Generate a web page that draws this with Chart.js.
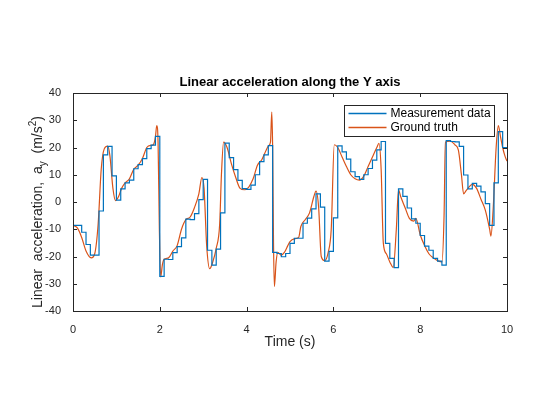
<!DOCTYPE html>
<html><head><meta charset="utf-8">
<script src="https://cdn.jsdelivr.net/npm/chart.js@4"></script>
<style>html,body{margin:0;padding:0;background:#fff}#c{display:block}</style>
</head><body>
<div style="width:560px;height:420px"><canvas id="c" width="560" height="420"></canvas></div>
<script>
const title = "Linear acceleration along the Y axis";
const xTicks = [0,2,4,6,8,10];
const yTicks = [-40,-30,-20,-10,0,10,20,30,40];
const measValues = [-8.6,-8.6,-11.1,-15.6,-19.5,-19.5,-3.3,17.3,20.4,9.6,
 0.7,4.8,7,8,12.2,13.7,15.9,19.6,20.9,24.1,
 -27.3,-21,-21.1,-18.6,-16.4,-13.2,-6.3,-6.5,-4.3,0.9,
 8.3,-17.7,-23.2,-17.3,-4,21.6,16.3,11.9,7.9,4.9,
 4.6,6.2,10,14.8,17.3,20.7,-18.5,-18.9,-20.1,-18.9,
 -15.2,-13.3,-13.3,-7.8,-5.9,-2.5,3,-1.9,-21.7,-18.1,
 -5.8,20.6,18.4,15.7,11.1,9.3,8.3,10,12.3,15.4,
 19.1,22.2,-15.2,-20.7,-24.1,4.8,2.1,-2.2,-6.2,-7.8,
 -12.3,-16.2,-17.7,-20.7,-21.7,-23.2,22.5,22.2,22.1,20.4,
 9.9,4.8,6.8,5.8,3.7,-0.6,-8.6,7,25.8,20,20];
const truthT = [0,0.1,0.2,0.3,0.42,0.5,0.58,0.65,0.72,0.8,0.85,0.92,0.98,1.05,1.12,1.2,1.3,1.4,1.5,1.6,1.7,1.8,1.85,1.9,1.93,1.96,1.99,2.02,2.06,2.1,2.2,2.3,2.4,2.5,2.6,2.7,2.8,2.9,2.97,3.02,3.08,3.15,3.22,3.3,3.38,3.42,3.47,3.55,3.65,3.75,3.85,3.95,4.05,4.15,4.25,4.35,4.45,4.5,4.55,4.58,4.6,4.62,4.64,4.68,4.72,4.8,4.87,4.95,5.0,5.1,5.2,5.25,5.35,5.45,5.55,5.6,5.66,5.72,5.8,5.88,5.95,6.02,6.1,6.2,6.3,6.4,6.5,6.6,6.7,6.8,6.9,7.0,7.05,7.1,7.15,7.22,7.3,7.38,7.45,7.5,7.55,7.65,7.75,7.85,7.9,8.0,8.1,8.2,8.3,8.4,8.5,8.55,8.58,8.7,8.8,8.88,8.95,9.0,9.05,9.1,9.2,9.3,9.4,9.5,9.6,9.63,9.68,9.75,9.8,9.85,9.9,9.95,10];
const truthV = [-8.6,-9.5,-13,-18,-20.5,-19,-8,12,19.5,20.5,17,5,0.5,2,5,7,8.5,12,13.5,16,20,20.8,21,24,28,22,-10,-27.5,-23,-21,-20.5,-18,-16,-10,-6.5,-5.5,-2,3,9,5,-16,-24.5,-22,-17,-8,10,22,20,14,9,5,4.5,5.5,8.5,13.5,15.5,19,20.5,22,33,20,-15,-31,-22,-18.5,-19.5,-18.5,-16,-14.5,-13.5,-13,-9,-6.5,-4,2,4,-2,-20,-21.5,-18.5,-10,21,20,16.5,13,10,8.5,8,9.5,13,16.5,20,21.5,12,-15,-19,-22,-24,-10,4.5,2,-2,-6,-7,-6,-12,-16,-19,-20.5,-21.5,-22,-5,22,22.3,21,19,10,3,4,5,6.5,5,1,-3,-10,-12.5,-3,20,28,24,20,17,15];

const measData = measValues.map((v,i)=>({x:i/10,y:v}));
const truthData = truthT.map((t,i)=>({x:t,y:truthV[i]}));
const FONT = "'Liberation Sans', Arial, sans-serif";
const TXT = '#262626';

const deco = {
  id:'deco',
  afterDraw(chart){
    const {ctx, chartArea:a, scales:{x,y}} = chart;
    ctx.save();
    ctx.strokeStyle = TXT; ctx.lineWidth = 1;
    ctx.beginPath();
    xTicks.forEach(v=>{const p=Math.round(x.getPixelForValue(v))+0.5;
      ctx.moveTo(p,a.bottom);ctx.lineTo(p,a.bottom-4);ctx.moveTo(p,a.top);ctx.lineTo(p,a.top+4);});
    yTicks.forEach(v=>{const p=Math.round(y.getPixelForValue(v))+0.5;
      ctx.moveTo(a.left,p);ctx.lineTo(a.left+4,p);ctx.moveTo(a.right,p);ctx.lineTo(a.right-4,p);});
    ctx.stroke();
    ctx.strokeRect(Math.round(a.left)+0.5,Math.round(a.top)+0.5,Math.round(a.right-a.left),Math.round(a.bottom-a.top));
    ctx.fillStyle = '#000';
    ctx.font = "bold 13px "+FONT; ctx.textAlign='center'; ctx.textBaseline='alphabetic';
    ctx.fillText(title,(a.left+a.right)/2,86);
    ctx.fillStyle = TXT;
    ctx.font = "14px "+FONT;
    ctx.fillText("Time (s)",(a.left+a.right)/2,346);
    // y label
    ctx.translate(42,212); ctx.rotate(-Math.PI/2);
    const parts=[["Linear  acceleration,  a",14,0],["y",10,4],["  (m/s",14,0],["2",10,-6],[")",14,0]];
    let w=0; parts.forEach(p=>{ctx.font=p[1]+"px "+FONT; w+=ctx.measureText(p[0]).width;});
    let cx=-w/2; ctx.textAlign='left';
    parts.forEach(p=>{ctx.font=p[1]+"px "+FONT; ctx.fillText(p[0],cx,p[2]); cx+=ctx.measureText(p[0]).width;});
    ctx.restore();
    // legend
    ctx.save();
    const lx=344.5, ly=105.5, lw=150, lh=31;
    ctx.fillStyle='#fff'; ctx.fillRect(lx,ly,lw,lh);
    ctx.strokeStyle=TXT; ctx.lineWidth=1; ctx.strokeRect(lx,ly,lw,lh);
    const items=[["Measurement data",'#0072BD'],["Ground truth",'#D95319']];
    ctx.font="12px "+FONT; ctx.textBaseline='middle'; ctx.textAlign='left';
    items.forEach((it,i)=>{const yy=ly+8+i*14;
      ctx.strokeStyle=it[1]; ctx.lineWidth=1.3; ctx.beginPath(); ctx.moveTo(lx+4,yy); ctx.lineTo(lx+42,yy); ctx.stroke();
      ctx.fillStyle='#000'; ctx.fillText(it[0],lx+46,yy);});
    ctx.restore();
  }
};

new Chart(document.getElementById('c'),{
  type:'line',
  data:{datasets:[
    {label:'Measurement data',data:measData,borderColor:'#0072BD',borderWidth:1.2,stepped:true,pointRadius:0,fill:false},
    {label:'Ground truth',data:truthData,borderColor:'#D95319',borderWidth:1.2,tension:0.3,cubicInterpolationMode:'monotone',pointRadius:0,fill:false}
  ]},
  options:{
    responsive:false,animation:false,
    layout:{padding:{left:20,right:53,top:93,bottom:40}},
    plugins:{legend:{display:false},tooltip:{enabled:false}},
    scales:{
      x:{type:'linear',min:0,max:10,
        afterFit(s){s.height=69;},
        afterBuildTicks(s){s.ticks=xTicks.map(v=>({value:v}));},
        grid:{display:false},border:{display:false},
        ticks:{color:TXT,font:{family:FONT,size:11},padding:4,maxRotation:0}},
      y:{type:'linear',min:-40,max:40,
        afterFit(s){s.width=53;},
        afterBuildTicks(s){s.ticks=yTicks.map(v=>({value:v}));},
        grid:{display:false},border:{display:false},
        ticks:{color:TXT,font:{family:FONT,size:11},padding:4}}
    }
  },
  plugins:[deco]
});
</script>
</body></html>
